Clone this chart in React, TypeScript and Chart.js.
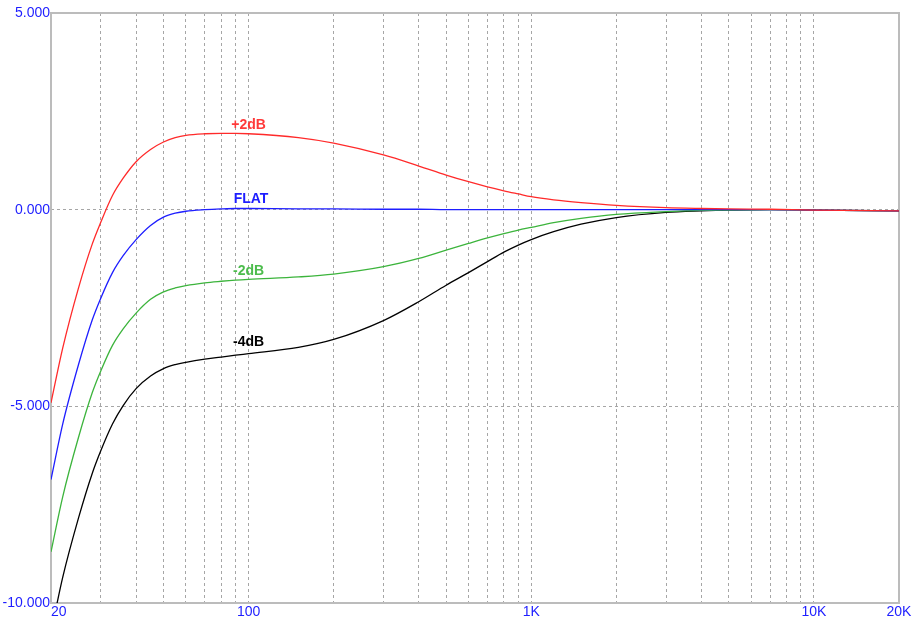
import React, { useEffect, useRef } from "react";
import { Chart, registerables } from "chart.js";

Chart.register(...registerables);

// Frequencies (Hz) at which values were read
const FREQS = [20, 22, 25, 28, 30, 33, 36, 40, 45, 50, 55, 60, 70, 80, 90, 100, 150, 200, 300, 400, 500, 600, 700, 800, 900, 1000, 1200, 1500, 2000, 3000, 4000, 5000, 7000, 10000, 20000];

// Series values (dB)
const PLUS2 = [-4.91, -3.52, -2.0, -0.87, -0.32, 0.36, 0.8, 1.22, 1.53, 1.72, 1.83, 1.89, 1.93, 1.94, 1.94, 1.93, 1.83, 1.69, 1.39, 1.11, 0.88, 0.71, 0.58, 0.48, 0.40, 0.33, 0.25, 0.18, 0.11, 0.05, 0.03, 0.02, 0.01, -0.01, -0.03];
const FLAT = [-6.86, -5.45, -3.95, -2.8, -2.25, -1.6, -1.17, -0.76, -0.40, -0.19, -0.09, -0.04, 0.0, 0.02, 0.03, 0.03, 0.02, 0.02, 0.01, 0.01, 0, 0, 0, 0, 0, 0, 0, 0, 0, 0, 0, 0, 0, -0.01, -0.03];
const MINUS2 = [-8.7, -7.3, -5.8, -4.65, -4.1, -3.45, -3.03, -2.63, -2.28, -2.09, -1.99, -1.93, -1.86, -1.82, -1.79, -1.77, -1.71, -1.64, -1.45, -1.24, -1.03, -0.86, -0.72, -0.61, -0.52, -0.45, -0.33, -0.22, -0.12, -0.05, -0.02, -0.01, 0, -0.01, -0.03];
const MINUS4 = [-10.75, -9.35, -7.85, -6.7, -6.13, -5.45, -4.98, -4.55, -4.23, -4.04, -3.94, -3.88, -3.80, -3.75, -3.70, -3.66, -3.50, -3.30, -2.82, -2.34, -1.92, -1.60, -1.32, -1.08, -0.90, -0.76, -0.56, -0.37, -0.20, -0.07, -0.03, -0.01, 0, -0.01, -0.03];

// Series labels and where their names sit on the chart
const SERIES_NAMES = ["+2dB", "FLAT", "-2dB", "-4dB"];
const SERIES_COLORS = ["#ff2a2a", "#1e1eff", "#3cb43c", "#000000"];
const NAME_COLORS = ["#ff3a3a", "#1e1eff", "#4cbc4c", "#000000"];
const NAME_FREQ = [100, 102, 100, 100];
const NAME_DB = [2.15, 0.28, -1.57, -3.37];

// Axis ticks
const X_MIN = 20;
const X_MAX = 20000;
const X_GRID = [20, 30, 40, 50, 60, 70, 80, 90, 100, 200, 300, 400, 500, 600, 700, 800, 900, 1000, 2000, 3000, 4000, 5000, 6000, 7000, 8000, 9000, 10000, 20000];
const X_LABEL_VALUES = [20, 100, 1000, 10000, 20000];
const X_LABEL_TEXT = ["20", "100", "1K", "10K", "20K"];
const Y_MIN = -10;
const Y_MAX = 5;
const Y_TICKS = [-10, -5, 0, 5];

const FONT = "'Liberation Sans', Arial, sans-serif";
const TICK_COLOR = "#1e1eff";
const GRID_COLOR = "#a6a6a6";
const FRAME_COLOR = "#bcbcbc";

export default function App() {
  const ref = useRef<HTMLCanvasElement | null>(null);

  useEffect(() => {
    const canvas = ref.current;
    if (!canvas) return;

    const seriesValues = [PLUS2, FLAT, MINUS2, MINUS4];

    const framePlugin = {
      id: "frame",
      beforeDatasetsDraw(chart: any) {
        const { ctx, chartArea } = chart;
        ctx.save();
        ctx.strokeStyle = FRAME_COLOR;
        ctx.lineWidth = 2;
        ctx.setLineDash([]);
        ctx.strokeRect(chartArea.left, chartArea.top, chartArea.right - chartArea.left, chartArea.bottom - chartArea.top);
        ctx.restore();
      },
    };

    const namesPlugin = {
      id: "seriesNames",
      afterDatasetsDraw(chart: any) {
        const { ctx } = chart;
        const xs = chart.scales.x;
        const ys = chart.scales.y;
        ctx.save();
        ctx.font = `bold 14px ${FONT}`;
        ctx.textAlign = "center";
        ctx.textBaseline = "middle";
        SERIES_NAMES.forEach((name, i) => {
          ctx.fillStyle = NAME_COLORS[i];
          ctx.fillText(name, xs.getPixelForValue(NAME_FREQ[i]), ys.getPixelForValue(NAME_DB[i]));
        });
        ctx.restore();
      },
    };

    const chart = new Chart(canvas, {
      type: "line",
      data: {
        datasets: SERIES_NAMES.map((name, i) => ({
          label: name,
          data: FREQS.map((f, j) => ({ x: f, y: seriesValues[i][j] })),
          borderColor: SERIES_COLORS[i],
          backgroundColor: SERIES_COLORS[i],
          borderWidth: 1.3,
          pointRadius: 0,
          cubicInterpolationMode: "monotone" as const,
          fill: false,
        })),
      },
      options: {
        animation: false,
        responsive: false,
        maintainAspectRatio: false,
        layout: { padding: { top: 13, right: 22, left: 0, bottom: 0 } },
        plugins: {
          legend: { display: false },
          tooltip: { enabled: false },
        },
        scales: {
          x: {
            type: "logarithmic",
            min: X_MIN,
            max: X_MAX,
            afterBuildTicks: (scale: any) => {
              const t = X_GRID.map((v) => ({ value: v }));
              t.push({ value: X_MAX }); // spacer so the last label stays centred
              scale.ticks = t;
            },
            afterFit: (scale: any) => {
              scale.height = 16;
            },
            grid: {
              drawTicks: false,
              color: (ctx: any) => {
                const v = ctx.tick ? ctx.tick.value : null;
                if (v === X_MIN || v === X_MAX) return "rgba(0,0,0,0)";
                return GRID_COLOR;
              },
              lineWidth: 1,
            },
            border: { display: false, dash: [3, 3] },
            ticks: {
              autoSkip: false,
              maxRotation: 0,
              minRotation: 0,
              align: "inner",
              padding: 1,
              color: TICK_COLOR,
              font: { family: FONT, size: 14 },
              callback: (value: any, index: number, ticks: any[]) => {
                if (index === ticks.length - 1) return "";
                const k = X_LABEL_VALUES.indexOf(Number(value));
                return k >= 0 ? X_LABEL_TEXT[k] : "";
              },
            },
          },
          y: {
            type: "linear",
            min: Y_MIN,
            max: Y_MAX,
            afterBuildTicks: (scale: any) => {
              scale.ticks = Y_TICKS.map((v) => ({ value: v }));
            },
            afterFit: (scale: any) => {
              scale.width = 51;
            },
            grid: {
              drawTicks: false,
              color: (ctx: any) => {
                const v = ctx.tick ? ctx.tick.value : null;
                if (v === Y_MIN || v === Y_MAX) return "rgba(0,0,0,0)";
                return GRID_COLOR;
              },
              lineWidth: 1,
            },
            border: { display: false, dash: [3, 3] },
            ticks: {
              padding: 1,
              color: TICK_COLOR,
              font: { family: FONT, size: 14 },
              callback: (value: any) => Number(value).toFixed(3),
            },
          },
        },
      },
      plugins: [framePlugin, namesPlugin],
    } as any);

    return () => chart.destroy();
  }, []);

  return (
    <div style={{ position: "fixed", left: 0, top: 0, width: 921, height: 619, background: "#fff" }}>
      <canvas ref={ref} width={921} height={619} style={{ display: "block", width: 921, height: 619 }} />
    </div>
  );
}
